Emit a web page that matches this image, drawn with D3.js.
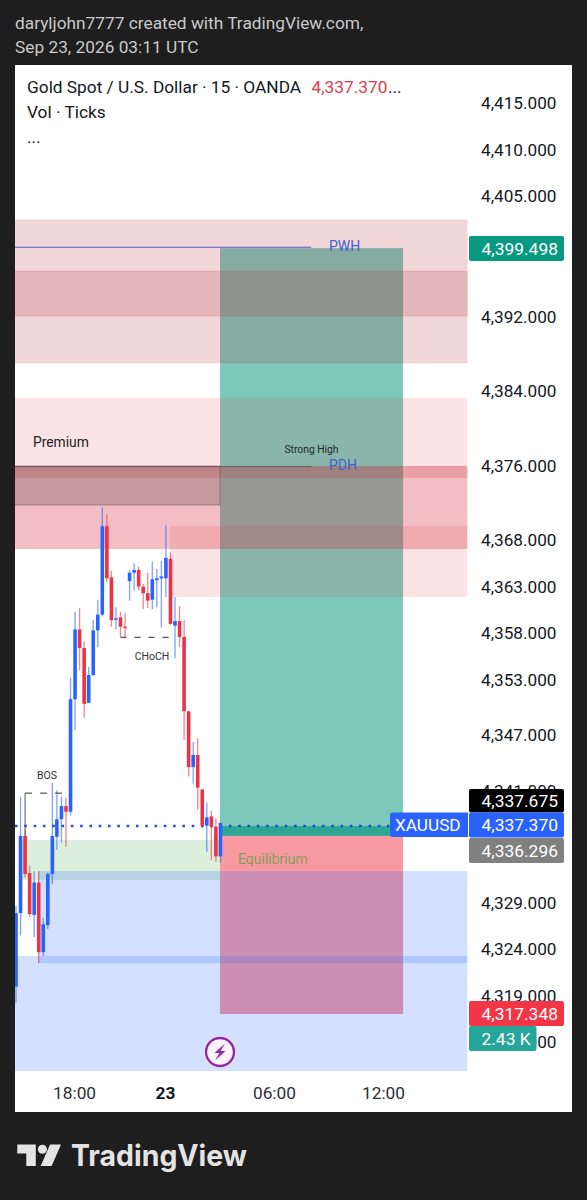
<!DOCTYPE html>
<html><head><meta charset="utf-8">
<script src="https://cdnjs.cloudflare.com/ajax/libs/d3/7.8.5/d3.min.js"></script>
<style>html,body{margin:0;padding:0;background:#1e1e1e}svg{display:block}text{font-family:Roboto,sans-serif}</style>
</head><body><svg id="c" width="587" height="1200"></svg>
<script>
// candles by bar index
const opens  = [4320.1,4328.0,4336.3,4332.3,4327.8,4331.3,4323.8,4326.7,4332.2,4336.2,4338.1,4339.5,4338.9,4351.0,4358.5,4356.5,4350.6,4353.6,4358.4,4360.1,4369.6,4364.1,4359.6,4359.8,4358.8,4363.7,4364.6,4364.9,4363.1,4362.4,4361.7,4363.8,4364.0,4364.0,4366.1,4358.9,4359.4,4357.7,4349.7,4343.7,4345.0,4341.3,4337.4,4338.4,4337.3,4334.1];
const closes = [4328.0,4336.3,4332.2,4327.9,4331.3,4323.8,4326.8,4332.2,4336.3,4338.1,4339.5,4338.9,4351.0,4358.5,4356.5,4350.5,4353.6,4358.4,4360.1,4369.6,4364.0,4359.5,4359.7,4358.8,4358.7,4364.6,4364.9,4363.1,4362.4,4361.6,4363.9,4364.0,4364.2,4366.2,4359.1,4359.4,4357.7,4349.7,4343.7,4345.0,4341.5,4337.4,4338.3,4337.3,4334.1,4337.7];
const highs  = [4328.8,4340.5,4337.0,4333.1,4332.5,4332.5,4327.5,4332.4,4342.0,4341.2,4340.5,4340.4,4353.3,4360.4,4360.8,4357.2,4354.5,4359.5,4361.7,4371.6,4370.9,4364.8,4360.9,4360.4,4360.3,4364.9,4365.6,4365.3,4363.4,4364.6,4365.8,4365.0,4365.9,4369.7,4366.8,4362.0,4361.0,4359.5,4349.7,4346.4,4346.8,4341.3,4339.9,4339.0,4338.2,4337.7];
const lows   = [4318.3,4325.6,4331.8,4327.6,4325.4,4322.6,4323.4,4326.3,4331.1,4334.8,4335.6,4335.1,4338.5,4347.7,4354.1,4349.0,4350.6,4353.5,4356.6,4359.9,4363.6,4358.8,4358.5,4357.7,4357.7,4361.6,4362.7,4362.7,4360.7,4360.8,4360.7,4360.9,4358.7,4362.0,4359.0,4355.4,4356.6,4346.6,4342.7,4341.9,4339.1,4337.4,4334.6,4333.7,4333.5,4333.4];

const yTicks = [4415,4410,4405,4392,4384,4376,4368,4363,4358,4353,4347,4341,4329,4324,4319,4314];
const timeLabels = ["18:00","23","06:00","12:00"];
const timeBars = [13,33,57,81];

// position tool
const entryPrice = 4336.296, targetPrice = 4399.498, stopPrice = 4317.348, lastPrice = 4337.370, midPrice = 4337.675;
const stopBoxPrice = 4317.15;
const positionBars = [44.9,85.2];

// zones: [startBar, endBar, topPrice, bottomPrice]
const supplyZones  = [[-1,99.4,4402.53,4387.15],[-1,99.4,4397.04,4392.2]];
const paleZones    = [[-1,99.4,4383.39,4367.15],[33.9,99.4,4369.62,4361.99]];
const bandZones    = [[-1,99.4,4376.08,4367.15],[-1,99.4,4376.08,4374.78]];
const greyZones    = [[-1,44.9,4376.08,4371.88]];
const greenZones   = [[0.9,44.9,4335.86,4331.56]];
const blueZones    = [[4.84,99.4,4332.53,4322.63],[-1,99.4,4323.39,4311.02]];

const pwhPrice = 4399.6, pdhPrice = 4376.0, bosPrice = 4340.9, chochPrice = 4357.65;

const svg = d3.select("#c");
const x = d3.scaleLinear().domain([0,81]).range([16,384]);
const y = d3.scaleLinear().domain([4415,4319]).range([104,996.8]);
const BLUE="#2962ff", RED="#ea3445";

svg.append("rect").attr("x",0).attr("y",0).attr("width",587).attr("height",1200).attr("fill","#1e1e1e");
svg.append("rect").attr("x",15).attr("y",65).attr("width",557).attr("height",1047).attr("fill","#fff");
svg.append("defs").append("clipPath").attr("id","plot").append("rect").attr("x",15).attr("y",65).attr("width",452.5).attr("height",1047);

const hdr=[["daryljohn7777 created with TradingView.com,",29],["Sep 23, 2026 03:11 UTC",53]];
svg.selectAll(".h").data(hdr).join("text").attr("x",15).attr("y",d=>d[1]).attr("font-size",17.3).attr("fill","#c9c9c9").text(d=>d[0]);

const plot = svg.append("g").attr("clip-path","url(#plot)");
function box(a,b,t,bt,fill,stroke){
  return plot.append("rect").attr("x",x(a)).attr("width",x(b)-x(a)).attr("y",y(t)).attr("height",y(bt)-y(t)).attr("fill",fill).attr("stroke",stroke||"none").attr("stroke-width",stroke?0.7:0);
}
// position
box(positionBars[0],positionBars[1],targetPrice,lastPrice,"rgba(8,153,129,.53)");
box(positionBars[0],positionBars[1],lastPrice,entryPrice,"rgba(8,153,129,.85)");
box(positionBars[0],positionBars[1],entryPrice,stopBoxPrice,"rgba(242,54,69,.5)");
// zones
supplyZones.forEach(z=>box(z[0],z[1],z[2],z[3],"rgba(178,40,51,.19)","rgba(178,40,51,.16)"));
paleZones.forEach(z=>box(z[0],z[1],z[2],z[3],"rgba(230,50,65,.13)"));
bandZones.forEach(z=>box(z[0],z[1],z[2],z[3],"rgba(205,40,55,.2)"));
greyZones.forEach(z=>box(z[0],z[1],z[2],z[3],"rgba(90,60,60,.27)","rgba(60,50,50,.5)"));
greenZones.forEach(z=>box(z[0],z[1],z[2],z[3],"rgba(76,175,80,.2)"));
blueZones.forEach(z=>box(z[0],z[1],z[2],z[3],"rgba(41,98,255,.2)"));

// level lines
plot.append("line").attr("x1",15).attr("x2",x(65)).attr("y1",y(pwhPrice)).attr("y2",y(pwhPrice)).attr("stroke","#4a5fc8").attr("stroke-width",1);
plot.append("line").attr("x1",15).attr("x2",x(65)).attr("y1",y(pdhPrice)).attr("y2",y(pdhPrice)).attr("stroke","#6b5a66").attr("stroke-width",1);

// last price dotted
plot.append("line").attr("x1",15).attr("x2",467).attr("y1",y(lastPrice)).attr("y2",y(lastPrice)).attr("stroke","#2450c8").attr("stroke-width",2.4).attr("stroke-dasharray","2.6 6.7");

// candles
const idx = d3.range(opens.length);
plot.selectAll(".w").data(idx).join("line").attr("x1",i=>x(i)).attr("x2",i=>x(i)).attr("y1",i=>y(highs[i])).attr("y2",i=>y(lows[i]))
  .attr("stroke",i=>closes[i]>=opens[i]?BLUE:RED).attr("stroke-opacity",.6).attr("stroke-width",1.3);
plot.selectAll(".b").data(idx).join("rect").attr("x",i=>x(i)-1.8).attr("width",3.6)
  .attr("y",i=>y(Math.max(opens[i],closes[i]))).attr("height",i=>Math.max(1.5,Math.abs(y(opens[i])-y(closes[i]))))
  .attr("fill",i=>closes[i]>=opens[i]?BLUE:RED);

// structure marks
plot.append("line").attr("x1",x(2)).attr("x2",x(2)).attr("y1",y(bosPrice)).attr("y2",y(entryPrice)).attr("stroke","#555").attr("stroke-width",1);
plot.append("line").attr("x1",x(2)).attr("x2",x(10.5)).attr("y1",y(bosPrice)).attr("y2",y(bosPrice)).attr("stroke","#333").attr("stroke-width",1).attr("stroke-dasharray","7 8");
plot.append("line").attr("x1",x(23)).attr("x2",x(35)).attr("y1",y(chochPrice)).attr("y2",y(chochPrice)).attr("stroke","#555").attr("stroke-width",1.2).attr("stroke-dasharray","6 8");

function lab(t,xx,yy,size,fill,anchor,weight){
  return svg.append("text").attr("x",xx).attr("y",yy).attr("font-size",size).attr("fill",fill).attr("text-anchor",anchor||"start").attr("font-weight",weight||400).text(t);
}
lab("Premium",33,447,13.8,"#222");
lab("PWH",329,251,14,"#3f62d0");
lab("PDH",329,469.5,14,"#3f62d0");
lab("Strong High",311.5,452.5,10.3,"#1f2a2a","middle");
lab("CHoCH",152,660,10.5,"#333","middle");
lab("BOS",47,779,10.5,"#333","middle");
lab("Equilibrium",238,864,14,"#8a9a5a");

// legend
lab("Gold Spot / U.S. Dollar · 15 · OANDA",27,93,17.3,"#131722");
lab("4,337.370",311.5,93,17.3,"#e0394c");
lab("...",388,93,17.3,"#131722");
lab("Vol · Ticks",27,118,17.3,"#131722");
lab("...",27,143,17.3,"#131722");

// y axis via d3 axis
const yAxis = d3.axisRight(y).tickValues(yTicks).tickSize(0).tickPadding(0).tickFormat(d3.format(",.3f"));
const ya = svg.append("g").attr("transform","translate(481,-1)").call(yAxis);
ya.select(".domain").remove();
ya.selectAll("text").attr("font-size",17.2).attr("fill","#131722").attr("font-family","Roboto,sans-serif");

// x axis labels
svg.selectAll(".t").data(timeLabels).join("text").attr("x",(d,i)=>x(timeBars[i])-0.5).attr("y",1098.5).attr("text-anchor","middle")
  .attr("font-size",17.3).attr("fill",d=>d==="23"?"#131722":"#2a2e39").attr("font-weight",d=>d==="23"?700:400).text(d=>d);

// price tags
const fmt = d3.format(",.3f");
const tags=[[fmt(targetPrice),236,25,"#089981",95],[fmt(midPrice),789,23.5,"#000",95],[fmt(lastPrice),812.5,25,BLUE,95],[fmt(entryPrice),838,25,"#808080",95],[fmt(stopPrice),1001,25,"#f23645",95],["2.43 K",1026,25,"#26a69a",67.5]];
tags.forEach(t=>{
  svg.append("rect").attr("x",469).attr("y",t[1]).attr("width",t[4]).attr("height",t[2]).attr("rx",2).attr("fill",t[3]);
  lab(t[0],481.5,t[1]+t[2]/2+6.2,17.4,"#fff");
});
svg.append("path").attr("d","M468 812.5H393a3 3 0 0 0 -3 3V834a3 3 0 0 0 3 3H468Z").attr("fill",BLUE);
lab("XAUUSD",395,831,17.2,"#fff");

// bolt icon
svg.append("circle").attr("cx",220).attr("cy",1052).attr("r",16).attr("fill","#fbe9f7");
svg.append("circle").attr("cx",220).attr("cy",1052).attr("r",14).attr("fill","#fbf4fb").attr("stroke","#8e2aa6").attr("stroke-width",2.4);
svg.append("path").attr("d","M225 1043.5L214.5 1053H219.5L215 1060.5L225.5 1051H220.5Z").attr("fill","#8e2aa6");

// logo
svg.append("path").attr("fill","#e4e4e4").attr("d","M17.3 1144.5H35.8V1166H26.3V1153.6H17.3Z");
svg.append("circle").attr("cx",42.4).attr("cy",1149.3).attr("r",4.5).attr("fill","#e4e4e4");
svg.append("path").attr("fill","#e4e4e4").attr("d","M50 1144.5H61L51.6 1166H40.7Z");
svg.append("text").attr("x",71).attr("y",1166).attr("font-size",29.5).attr("font-weight",700).attr("fill","#e4e4e4").attr("style","font-family:Inter,sans-serif").attr("textLength",176).attr("lengthAdjust","spacingAndGlyphs").text("TradingView");
</script></body></html>
